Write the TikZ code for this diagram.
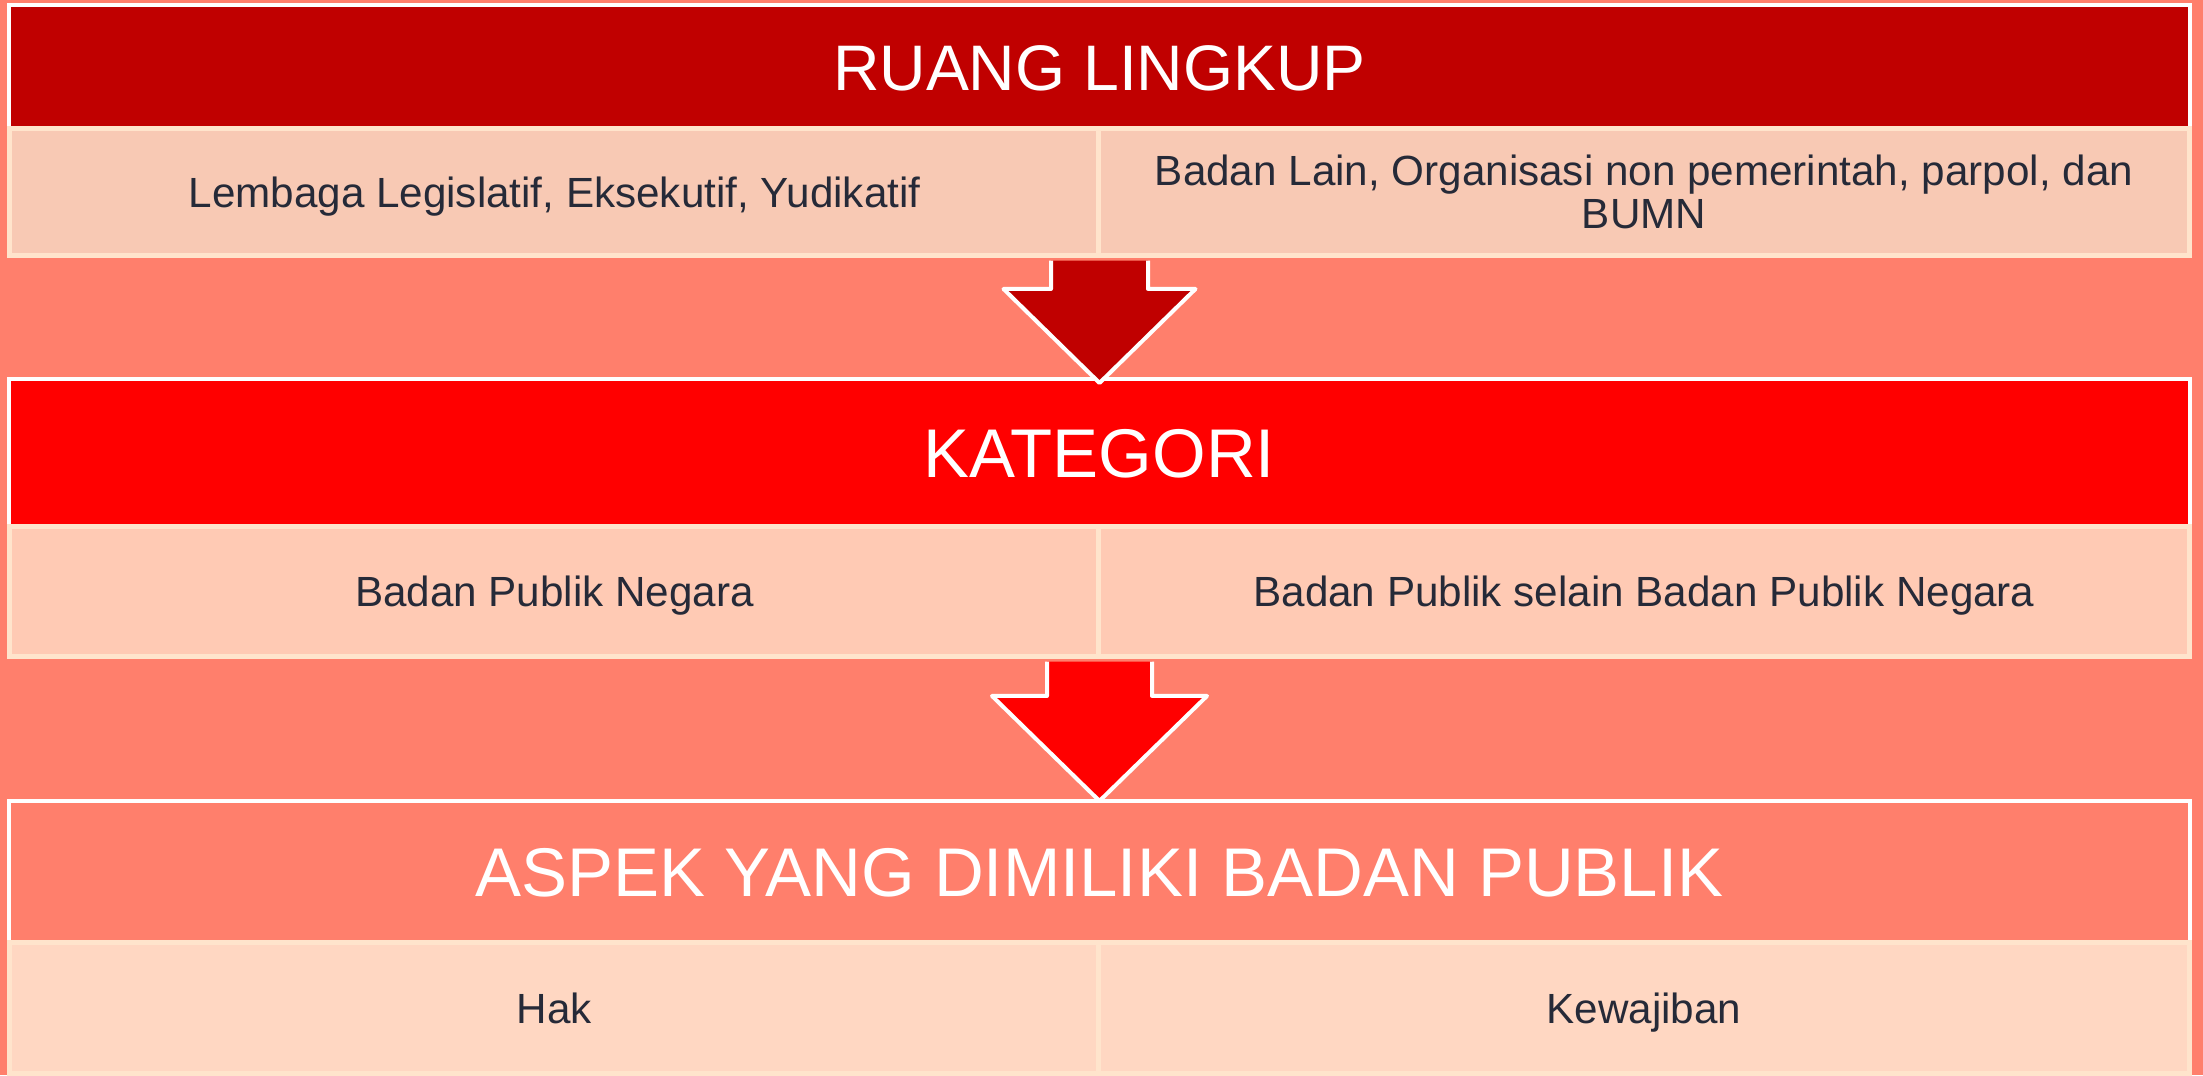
\documentclass[tikz,border=0pt]{standalone}
\usepackage{fontspec}
\setmainfont{Liberation Sans}
\usetikzlibrary{calc}

\definecolor{salmon}{HTML}{FF7F6C}
\definecolor{darkred}{HTML}{C00000}
\definecolor{brightred}{HTML}{FF0000}
\definecolor{peachA}{HTML}{F8C9B4}
\definecolor{peachB}{HTML}{FFCAB4}
\definecolor{peachC}{HTML}{FFD7C2}
\definecolor{cellline}{HTML}{FFE4CC}
\definecolor{celltext}{HTML}{262A38}

\tikzset{
	headbox/.style={draw=white, line width=0.04cm, inner sep=0pt, minimum width=21.79cm, text=white, text depth=0pt, font=\fontsize{19.6}{22}\selectfont, text height=14.0pt},
	cellbox/.style={draw=cellline, line width=0.05cm, inner sep=0pt, minimum width=10.9cm, text=celltext, align=center, text height=8.6pt, text depth=0pt, font=\fontsize{12}{12.4}\selectfont}
}

% block arrow: fill, top, tip, shaft half width, head half width, head length
\def\blockdown[#1](#2)(#3:#4:#5:#6){%
	\fill[#1] ($(#3|-#2)+(-#4,0)$) -- ($(#3)+(-#4,#6)$) -- ($(#3)+(-#5,#6)$) -- (#3) -- ($(#3)+(#5,#6)$) -- ($(#3)+(#4,#6)$) -- ($(#3|-#2)+(#4,0)$) -- cycle;
	\draw[white, line width=0.04cm, line join=round] ($(#3|-#2)+(-#4,0)$) -- ($(#3)+(-#4,#6)$) -- ($(#3)+(-#5,#6)$) -- (#3) -- ($(#3)+(#5,#6)$) -- ($(#3)+(#4,#6)$) -- ($(#3|-#2)+(#4,0)$);}

\begin{document}
\begin{tikzpicture}[x=0.01cm, y=0.01cm]
			%%%%% START %%%%%
			
			\fill[salmon] (0, 0) rectangle (2203, 1075);
			\useasboundingbox (0, 0) rectangle (2203, 1075);
			
			% ruang lingkup
			\node[headbox, fill=darkred, minimum height=1.24cm, font=\fontsize{18.3}{22}\selectfont, text height=13.1pt] (headA) at (1099.5, 1008) {RUANG LINGKUP};
			\node[cellbox, fill=peachA, minimum height=1.26cm] (cellA1) at (554.5, 883) {Lembaga Legislatif, Eksekutif, Yudikatif};
			\node[cellbox, fill=peachA, minimum height=1.26cm, text height=, text depth=] (cellA2) at (1644, 883) {Badan Lain, Organisasi non pemerintah, parpol, dan\\BUMN};
			
			% kategori
			\node[headbox, fill=brightred, minimum height=1.48cm] (headB) at (1099.5, 622) {KATEGORI};
			\node[cellbox, fill=peachB, minimum height=1.29cm] (cellB1) at (554.5, 483.5) {Badan Publik Negara};
			\node[cellbox, fill=peachB, minimum height=1.29cm] (cellB2) at (1644, 483.5) {Badan Publik selain Badan Publik Negara};
			
			% aspek
			\node[headbox, fill=salmon, minimum height=1.42cm] (headC) at (1099.5, 203) {ASPEK YANG DIMILIKI BADAN PUBLIK};
			\node[cellbox, fill=peachC, minimum height=1.30cm] (cellC1) at (554.5, 67) {Hak};
			\node[cellbox, fill=peachC, minimum height=1.30cm] (cellC2) at (1644, 67) {Kewajiban};
			
			% arrows
			\coordinate (topA) at ($(cellA1.south east)+(0, -3)$);
			\coordinate (tipA) at ($(headB.north)+(0, -6)$);
			\blockdown[darkred](topA)(tipA:48.5:96:94)
			
			\coordinate (topB) at ($(cellB1.south east)+(0, -3)$);
			\coordinate (tipB) at ($(headC.north)+(0, -2)$);
			\blockdown[brightred](topB)(tipB:52.5:107.5:105)
			
			%%%%% END %%%%%
\end{tikzpicture}
\end{document}
